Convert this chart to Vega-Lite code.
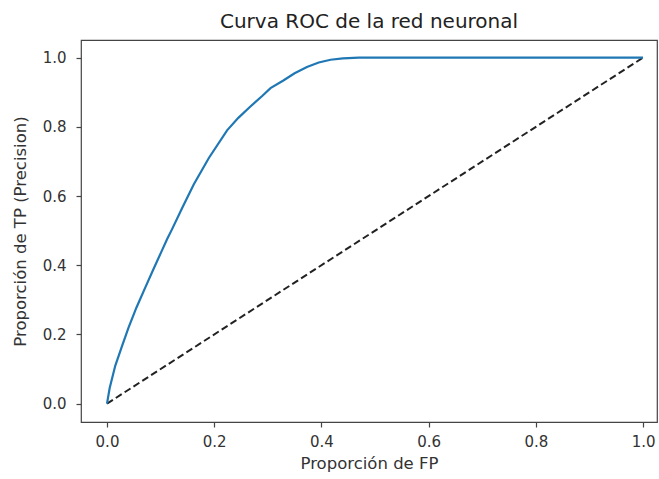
{
  "$schema": "https://vega.github.io/schema/vega-lite/v6.json",
  "width": 576,
  "height": 382,
  "autosize": "none",
  "padding": {"left": 81, "top": 40, "right": 2, "bottom": 57},
  "background": "white",
  "title": {
    "text": "Curva ROC de la red neuronal",
    "font": "DejaVu Sans",
    "fontSize": 20,
    "fontWeight": "normal",
    "color": "#222",
    "offset": 8
  },
  "config": {
    "view": {"stroke": "#444", "strokeWidth": 1.2},
    "axis": {
      "grid": false,
      "domain": false,
      "labelFont": "DejaVu Sans",
      "labelFontSize": 15,
      "labelColor": "#333",
      "titleFont": "DejaVu Sans",
      "titleFontSize": 16.5,
      "titleFontWeight": "normal",
      "titleColor": "#333",
      "tickColor": "#444",
      "tickSize": 5,
      "tickWidth": 1.2
    }
  },
  "datasets": {
    "roc": [
      {"fpr": 0, "tpr": 0},
      {"fpr": 0.005, "tpr": 0.045},
      {"fpr": 0.0155, "tpr": 0.11},
      {"fpr": 0.028, "tpr": 0.166},
      {"fpr": 0.04, "tpr": 0.219},
      {"fpr": 0.055, "tpr": 0.278},
      {"fpr": 0.0715, "tpr": 0.336},
      {"fpr": 0.087, "tpr": 0.39},
      {"fpr": 0.1026, "tpr": 0.443},
      {"fpr": 0.112, "tpr": 0.475},
      {"fpr": 0.121, "tpr": 0.503},
      {"fpr": 0.14, "tpr": 0.565},
      {"fpr": 0.162, "tpr": 0.634},
      {"fpr": 0.19, "tpr": 0.71},
      {"fpr": 0.224, "tpr": 0.79},
      {"fpr": 0.245, "tpr": 0.826},
      {"fpr": 0.267, "tpr": 0.858},
      {"fpr": 0.29, "tpr": 0.89},
      {"fpr": 0.305, "tpr": 0.912},
      {"fpr": 0.329, "tpr": 0.934},
      {"fpr": 0.35, "tpr": 0.955},
      {"fpr": 0.373, "tpr": 0.973},
      {"fpr": 0.395, "tpr": 0.986},
      {"fpr": 0.417, "tpr": 0.994},
      {"fpr": 0.44, "tpr": 0.998},
      {"fpr": 0.47, "tpr": 1.0},
      {"fpr": 0.6, "tpr": 1.0},
      {"fpr": 0.8, "tpr": 1.0},
      {"fpr": 1.0, "tpr": 1.0}
    ],
    "diag": [
      {"fpr": 0, "tpr": 0},
      {"fpr": 1, "tpr": 1}
    ]
  },
  "encoding": {
    "x": {
      "field": "fpr",
      "type": "quantitative",
      "title": "Proporción de FP",
      "scale": {"domain": [-0.0485, 1.026], "nice": false, "zero": false},
      "axis": {"values": [0, 0.2, 0.4, 0.6, 0.8, 1.0], "format": ".1f", "labelPadding": 7, "titlePadding": 6}
    },
    "y": {
      "field": "tpr",
      "type": "quantitative",
      "title": "Proporción de TP (Precision)",
      "scale": {"domain": [-0.053, 1.051], "nice": false, "zero": false},
      "axis": {"values": [0, 0.2, 0.4, 0.6, 0.8, 1.0], "format": ".1f", "labelPadding": 10, "titlePadding": 14}
    }
  },
  "layer": [
    {
      "data": {"name": "diag"},
      "mark": {"type": "line", "color": "#222", "strokeWidth": 2, "strokeDash": [7, 3.5], "clip": true}
    },
    {
      "data": {"name": "roc"},
      "mark": {"type": "line", "color": "#1f77b4", "strokeWidth": 2.2, "clip": true}
    }
  ]
}
